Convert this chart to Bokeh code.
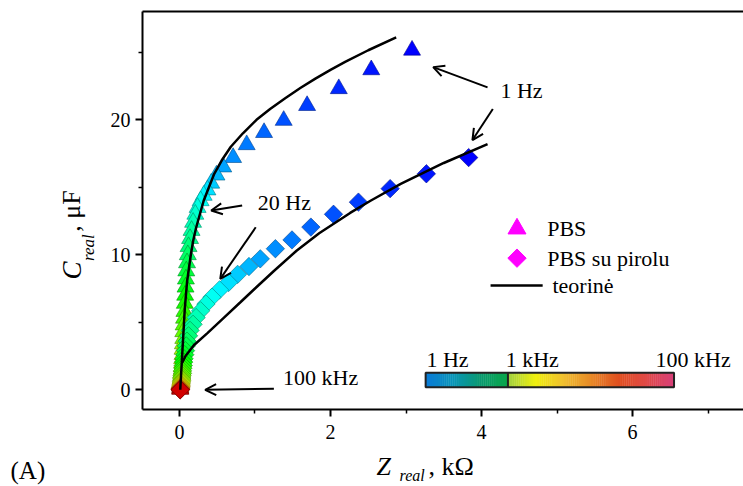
import colorsys
import math
from bokeh.plotting import figure
from bokeh.layouts import column, row
from bokeh.models import (Range1d, LinearAxis, FixedTicker, Label, Arrow, OpenHead,
                          ColumnDataSource)
from bokeh.embed import file_html
from bokeh.resources import INLINE

# ---------------- data ----------------
# measurement frequencies (Hz), 1 Hz ... 100 kHz
freq = [1, 1.26, 1.58, 2.0, 2.51, 3.16, 3.98, 5.01, 6.31, 7.94,
        10, 12.6, 15.8, 20, 25.1, 31.6, 39.8, 50.1, 63.1, 79.4,
        100, 126, 158, 200, 251, 316, 398, 501, 631, 794,
        1000, 1260, 1580, 2000, 2510, 3160, 3980, 5010, 6310, 7940,
        10000, 12600, 15800, 20000, 25100, 31600, 39800, 50100, 63100, 79400, 100000]

# PBS (triangles): Z_real [kOhm], C_real [uF]
pbs_z = [3.08, 2.54, 2.11, 1.69, 1.38, 1.12, 0.89, 0.71, 0.58, 0.49,
         0.42, 0.37, 0.32, 0.28, 0.24, 0.21, 0.18, 0.16, 0.14, 0.12,
         0.11, 0.10, 0.09, 0.085, 0.08, 0.075, 0.07, 0.065, 0.06, 0.055,
         0.05, 0.05, 0.045, 0.04, 0.04, 0.035, 0.035, 0.03, 0.03, 0.025,
         0.025, 0.02, 0.02, 0.02, 0.015, 0.015, 0.01, 0.01, 0.01, 0.01, 0.01]
pbs_c = [25.15, 23.7, 22.3, 21.05, 19.95, 19.05, 18.15, 17.2, 16.5, 15.9,
         15.3, 14.8, 14.4, 14.0, 13.5, 13.0, 12.4, 11.8, 11.2, 10.6,
         10.0, 9.4, 8.8, 8.2, 7.6, 7.0, 6.4, 5.8, 5.3, 4.8,
         4.3, 3.8, 3.4, 3.0, 2.6, 2.3, 2.0, 1.7, 1.45, 1.2,
         1.0, 0.82, 0.66, 0.52, 0.40, 0.30, 0.22, 0.15, 0.10, 0.06, 0.03]

# PBS su pirolu (diamonds)
pir_z = [3.83, 3.27, 2.79, 2.37, 2.04, 1.74, 1.49, 1.27, 1.07, 0.92,
         0.77, 0.65, 0.53, 0.43, 0.35, 0.28, 0.22, 0.18, 0.14, 0.12,
         0.10, 0.09, 0.08, 0.07, 0.06, 0.055, 0.05, 0.045, 0.04, 0.04,
         0.035, 0.03, 0.03, 0.03, 0.025, 0.025, 0.02, 0.02, 0.02, 0.02,
         0.015, 0.015, 0.015, 0.01, 0.01, 0.01, 0.01, 0.01, 0.01, 0.01, 0.01]
pir_c = [17.2, 16.0, 14.9, 13.9, 13.0, 12.05, 11.1, 10.45, 9.7, 9.13,
         8.55, 7.95, 7.4, 6.86, 6.35, 5.85, 5.35, 4.85, 4.4, 4.0,
         3.6, 3.25, 2.9, 2.6, 2.3, 2.05, 1.8, 1.6, 1.4, 1.22,
         1.06, 0.92, 0.80, 0.69, 0.59, 0.50, 0.42, 0.35, 0.29, 0.24,
         0.19, 0.15, 0.12, 0.09, 0.07, 0.05, 0.04, 0.03, 0.02, 0.01, 0.0]

# theoretical curves ("teorinė")
th1_z = [0.01, 0.02, 0.03, 0.04, 0.05, 0.06, 0.07, 0.085, 0.10, 0.125,
         0.15, 0.18, 0.22, 0.27, 0.32, 0.39, 0.46, 0.56, 0.68, 0.84,
         1.02, 1.2, 1.4, 1.6, 1.8, 2.0, 2.2, 2.5, 2.87]
th1_c = [0.0, 1.0, 2.0, 3.0, 4.0, 5.0, 6.0, 7.0, 8.0, 9.0,
         10.0, 11.0, 12.0, 13.0, 14.0, 15.0, 16.0, 17.0, 18.0, 19.0,
         20.0, 20.8, 21.6, 22.35, 23.05, 23.7, 24.3, 25.15, 26.1]
th2_z = [0.036, 0.08, 0.19, 0.37, 0.6, 0.81, 1.0, 1.25, 1.55, 1.85,
         2.26, 2.53, 2.93, 3.5, 4.08]
th2_c = [2.0, 2.5, 3.3, 4.2, 5.4, 6.5, 7.5, 8.8, 10.3, 11.6,
         13.1, 14.0, 15.25, 16.8, 18.2]

x_ticks = [0, 2, 4, 6]
y_ticks = [0, 10, 20]

FONT = "Liberation Serif"


def freq_color(f, dark=1.0):
    t = math.log10(f) / 5.0
    h = (1.0 - t) * 240.0 / 360.0
    v = 1.0 if t < 0.9 else 1.0 - 1.8 * (t - 0.9)
    r, g, b = colorsys.hsv_to_rgb(h, 1.0, v * dark)
    return "#%02x%02x%02x" % (int(r * 255), int(g * 255), int(b * 255))


fill = [freq_color(f) for f in freq]
edge = [freq_color(f, 0.55) for f in freq]

LEFT_W = 100
TOP_H = 450

p = figure(width=743 - LEFT_W, height=TOP_H, output_backend="svg", toolbar_location=None,
           x_range=Range1d(-0.49, 7.47), y_range=Range1d(-1.46, 28.02),
           min_border_left=142 - LEFT_W, min_border_right=0, min_border_top=11,
           min_border_bottom=TOP_H - 409)
p.outline_line_color = None
p.grid.visible = False
p.background_fill_color = "white"
p.border_fill_color = "white"

for ax in (p.xaxis[0], p.yaxis[0]):
    ax.axis_line_width = 2
    ax.axis_line_color = "black"
    ax.major_tick_line_width = 2
    ax.minor_tick_line_width = 1.5
    ax.major_tick_in = 0
    ax.major_tick_out = 7
    ax.minor_tick_in = 0
    ax.minor_tick_out = 4
    ax.major_label_text_font = FONT
    ax.major_label_text_font_size = "20px"
    ax.major_label_text_color = "black"
p.xaxis[0].ticker = FixedTicker(ticks=x_ticks, minor_ticks=[1, 3, 5, 7])
p.yaxis[0].ticker = FixedTicker(ticks=y_ticks, minor_ticks=[5, 15, 25])
p.xaxis[0].major_label_standoff = 8
p.yaxis[0].major_label_standoff = 5

top = LinearAxis(ticker=FixedTicker(ticks=[]), axis_line_width=2,
                 major_label_text_font_size="0px",
                 major_tick_line_color=None, minor_tick_line_color=None)
p.add_layout(top, "above")

# data markers
src1 = ColumnDataSource(dict(x=pbs_z, y=pbs_c, f=fill, e=edge))
src2 = ColumnDataSource(dict(x=pir_z, y=pir_c, f=fill, e=edge))
p.scatter("x", "y", source=src1, marker="triangle", size=17,
          fill_color="f", line_color="e", line_width=0.6)
p.scatter("x", "y", source=src2, marker="square", angle=math.pi / 4, size=13,
          fill_color="f", line_color="e", line_width=0.6)

# theory
p.line(th1_z, th1_c, line_color="black", line_width=2.5)
p.line(th2_z, th2_c, line_color="black", line_width=2.5)

# arrows and annotations
arrows = [((4.08, 22.4), (3.36, 23.9)), ((4.15, 20.8), (3.88, 18.5)),
          ((0.83, 13.65), (0.42, 13.28)), ((1.01, 12.04), (0.54, 8.22)),
          ((1.25, 0.07), (0.34, 0.0))]
for (xs, ys), (xe, ye) in arrows:
    p.add_layout(Arrow(end=OpenHead(size=11, line_width=2, line_color="black"),
                       x_start=xs, y_start=ys, x_end=xe, y_end=ye,
                       line_width=2, line_color="black"))


def lab(fig, x, y, t, size="22px", align="center", base="middle", style="normal", angle=0.0):
    fig.add_layout(Label(x=x, y=y, text=t, text_font=FONT, text_font_size=size,
                         text_align=align, text_baseline=base, text_font_style=style,
                         text_color="black", angle=angle))


lab(p, 4.53, 22.17, "1 Hz")
lab(p, 1.39, 13.87, "20 Hz")
lab(p, 1.87, 0.91, "100 kHz")

# legend (manual)
p.scatter([4.47], [11.93], marker="triangle", size=18, fill_color="#ff00ff", line_color="#ff00ff")
p.scatter([4.47], [9.75], marker="square", angle=math.pi / 4, size=13,
          fill_color="#ff00ff", line_color="#ff00ff")
p.line([4.12, 4.81], [7.73, 7.73], line_color="black", line_width=2.5)
lab(p, 4.87, 11.93, "PBS", align="left")
lab(p, 4.87, 9.75, "PBS su pirolu", align="left")
lab(p, 4.94, 7.73, "teorinė", align="left")

# frequency colour bar
left_stops = ["#0a7ad8", "#0a96b8", "#0a9a70", "#0aa84a"]
right_stops = ["#a0d040", "#f0f010", "#f0c030", "#e88a28", "#e05020", "#e04a48", "#d8407a"]


def hex2rgb(h):
    return tuple(int(h[i:i + 2], 16) for i in (1, 3, 5))


def gradient(stops, x0, x1, n):
    lefts, rights, cols = [], [], []
    for i in range(n):
        t = (i + 0.5) / n * (len(stops) - 1)
        k = min(int(t), len(stops) - 2)
        u = t - k
        a, b = hex2rgb(stops[k]), hex2rgb(stops[k + 1])
        c = tuple(int(a[j] + (b[j] - a[j]) * u) for j in range(3))
        cols.append("#%02x%02x%02x" % c)
        lefts.append(x0 + (x1 - x0) * i / n)
        rights.append(x0 + (x1 - x0) * (i + 1) / n + 0.005)
    return lefts, rights, cols


cb_x0, cb_xm, cb_x1, cb_y0, cb_y1 = 3.26, 4.35, 6.55, 0.19, 1.26
l1, r1, c1 = gradient(left_stops, cb_x0, cb_xm, 40)
l2, r2, c2 = gradient(right_stops, cb_xm, cb_x1, 80)
p.quad(left=l1 + l2, right=r1 + r2, bottom=cb_y0, top=cb_y1, fill_color=c1 + c2,
       line_color=None)
p.quad(left=[cb_x0], right=[cb_x1], bottom=[cb_y0], top=[cb_y1], fill_color=None,
       line_color="#222222", line_width=2)
p.line([cb_xm, cb_xm], [cb_y0, cb_y1], line_color="#222222", line_width=2)
lab(p, 3.27, 2.24, "1 Hz", align="left")
lab(p, 4.32, 2.24, "1 kHz", align="left")
lab(p, 7.30, 2.24, "100 kHz", align="right")


# helper panels for the axis titles (pixel coordinates, y measured from the bottom)
def blank(w, h):
    f = figure(width=w, height=h, output_backend="svg", toolbar_location=None,
               x_range=Range1d(0, w), y_range=Range1d(0, h),
               min_border=0, x_axis_location=None, y_axis_location=None)
    f.outline_line_color = None
    f.grid.visible = False
    f.background_fill_color = "white"
    f.border_fill_color = "white"
    return f


yt = blank(LEFT_W, TOP_H)
lab(yt, 71, TOP_H - 303, "C", size="27px", align="left", style="italic", angle=math.pi / 2)
lab(yt, 88, TOP_H - 282, "real", size="17px", align="left", style="italic", angle=math.pi / 2)
lab(yt, 71, TOP_H - 249, ", μF", size="26px", align="left", angle=math.pi / 2)

BOT_H = 486 - TOP_H
xt = blank(743, BOT_H)
lab(xt, 376, 486 - 466, "Z", size="26px", align="left", style="italic")
lab(xt, 399, 486 - 474.5, "real", size="16px", align="left", style="italic")
lab(xt, 428, 486 - 466, ", kΩ", size="26px", align="left")
lab(xt, 10, 486 - 470, "(A)", size="25px", align="left")

layout = column(row(yt, p, spacing=0), xt, spacing=0)
open("out.html", "w").write(file_html(layout, INLINE))
